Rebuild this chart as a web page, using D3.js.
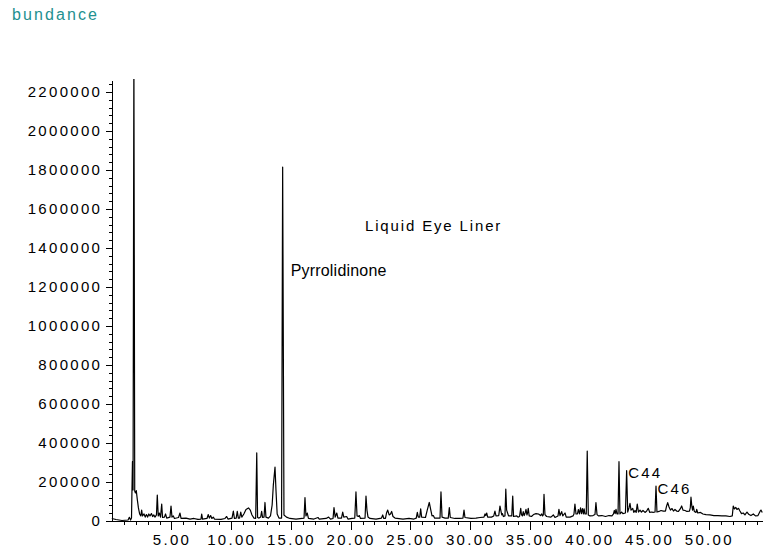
<!DOCTYPE html>
<html>
<head>
<meta charset="utf-8">
<script src="https://cdn.jsdelivr.net/npm/d3@7"></script>
<style>
  body { margin: 0; background: #fff; }
  text { font-family: "Liberation Sans", Arial, Helvetica, sans-serif; }
</style>
</head>
<body>
<div id="g1"></div>
<script>
// retention time (min) and abundance
var retentionTime = [
  0.00,0.35,0.85,1.36,1.47,1.57,1.65,1.73,1.78,1.85,
  1.92,1.98,2.05,2.14,2.23,2.33,2.43,2.50,2.57,2.70,
  2.80,2.90,3.00,3.10,3.20,3.32,3.42,3.52,3.62,3.74,
  3.81,3.89,3.98,4.08,4.18,4.25,4.41,4.50,4.60,4.87,
  4.96,5.04,5.15,5.25,5.59,5.71,5.80,6.21,6.55,6.88,
  7.22,7.47,7.53,7.60,7.97,8.08,8.17,8.28,8.38,8.50,
  8.60,9.15,9.48,9.62,9.73,10.07,10.18,10.27,10.42,10.51,
  10.60,10.70,10.80,10.89,11.06,11.24,11.45,11.60,11.74,11.91,
  12.05,12.14,12.21,12.33,12.47,12.55,12.63,12.75,12.83,12.91,
  13.12,13.29,13.43,13.53,13.67,13.75,13.85,14.00,14.22,14.31,
  14.42,14.63,14.92,15.43,15.93,16.10,16.18,16.26,16.37,16.47,
  16.93,17.27,17.38,17.94,18.16,18.32,18.53,18.61,18.71,18.84,
  18.94,19.24,19.34,19.43,19.67,19.78,20.12,20.35,20.45,20.54,
  20.66,20.73,20.83,21.21,21.29,21.37,21.46,21.62,22.13,22.59,
  22.69,22.78,22.92,23.01,23.11,23.23,23.34,23.44,23.55,23.72,
  24.39,24.89,25.31,25.50,25.59,25.67,25.79,25.87,25.95,26.27,
  26.42,26.59,26.72,26.82,26.93,27.03,27.49,27.57,27.66,27.91,
  28.18,28.27,28.35,28.74,29.08,29.41,29.50,29.58,30.08,30.50,
  30.84,31.17,31.26,31.32,31.40,31.48,31.80,31.99,32.09,32.18,
  32.41,32.51,32.60,32.66,32.72,32.80,32.93,33.00,33.07,33.15,
  33.23,33.50,33.58,33.65,33.92,34.02,34.15,34.25,34.31,34.39,
  34.46,34.54,34.62,34.69,34.77,34.82,34.88,34.96,35.15,35.32,
  35.53,35.74,35.91,36.01,36.08,36.14,36.20,36.28,36.42,36.78,
  36.98,37.12,37.37,37.45,37.54,37.68,37.77,37.96,38.06,38.38,
  38.63,38.71,38.79,38.88,39.00,39.08,39.17,39.26,39.34,39.42,
  39.50,39.56,39.63,39.74,39.82,39.91,40.05,40.30,40.47,40.55,
  40.64,40.76,41.05,41.35,41.64,41.89,42.02,42.09,42.16,42.23,
  42.31,42.40,42.48,42.56,42.69,42.81,43.02,43.12,43.21,43.32,
  43.40,43.49,43.63,43.72,43.82,43.92,44.01,44.11,44.24,44.36,
  44.49,44.66,44.80,44.93,45.06,45.22,45.33,45.50,45.58,45.66,
  45.83,46.00,46.19,46.37,46.47,46.56,46.67,46.79,46.92,47.04,
  47.17,47.31,47.46,47.61,47.73,47.84,48.01,48.17,48.38,48.45,
  48.51,48.58,48.64,48.70,48.79,48.93,48.99,49.08,49.31,49.51,
  49.77,50.10,50.43,50.76,51.10,51.43,51.77,51.97,52.05,52.15,
  52.26,52.36,52.49,52.61,52.74,52.89,53.03,53.20,53.37,53.53,
  53.73,53.91,54.12,54.29,54.37,54.48
];
var abundance = [
  13000,7700,2600,5000,19000,5000,15000,304000,159000,2400000,
  154000,144000,156000,108000,67000,36000,26000,56000,26000,36000,
  20000,33000,20000,36000,26000,38000,23000,31000,20000,31000,
  133000,26000,41000,20000,87000,18000,20000,36000,15000,20000,
  77000,20000,26000,13000,18000,41000,13000,15000,10000,13000,
  8000,10000,36000,10000,13000,33000,15000,28000,13000,20000,
  10000,8000,13000,23000,10000,15000,51000,13000,15000,49000,
  15000,15000,46000,20000,36000,59000,67000,56000,31000,15000,
  13000,349000,18000,15000,20000,49000,18000,20000,95000,20000,
  15000,26000,82000,185000,277000,159000,36000,15000,15000,1815000,
  31000,20000,13000,10000,13000,15000,120000,26000,41000,13000,
  10000,18000,10000,13000,20000,10000,13000,69000,20000,41000,
  15000,15000,46000,20000,23000,10000,13000,15000,149000,26000,
  23000,28000,13000,15000,128000,56000,20000,13000,10000,15000,
  31000,13000,13000,41000,56000,31000,36000,49000,23000,15000,
  10000,13000,10000,15000,44000,20000,20000,62000,20000,18000,
  56000,95000,56000,26000,28000,15000,15000,149000,20000,15000,
  15000,69000,18000,13000,13000,15000,56000,18000,13000,15000,
  18000,20000,36000,28000,41000,20000,20000,26000,51000,26000,
  28000,77000,49000,31000,38000,23000,26000,163000,56000,41000,
  26000,26000,128000,23000,26000,20000,23000,65000,33000,26000,
  48000,28000,41000,60000,31000,41000,65000,26000,23000,33000,
  38000,36000,28000,36000,26000,31000,137000,33000,23000,20000,
  31000,18000,26000,60000,28000,48000,26000,41000,20000,20000,
  26000,36000,87000,36000,36000,59000,36000,67000,38000,64000,
  36000,62000,36000,36000,359000,31000,26000,28000,33000,94000,
  33000,26000,28000,23000,28000,26000,36000,54000,38000,60000,
  36000,36000,304000,36000,46000,38000,41000,258000,46000,67000,
  91000,56000,65000,44000,54000,44000,87000,46000,56000,46000,
  54000,44000,51000,65000,44000,46000,44000,46000,179000,46000,
  49000,54000,51000,51000,77000,94000,72000,56000,64000,51000,
  59000,51000,49000,62000,77000,56000,54000,49000,51000,67000,
  122000,77000,56000,77000,49000,44000,60000,41000,44000,36000,
  33000,31000,28000,28000,26000,26000,23000,26000,77000,62000,
  70000,59000,65000,51000,38000,41000,31000,46000,33000,28000,
  36000,26000,28000,49000,56000,44000
];

var xMajor = [5, 10, 15, 20, 25, 30, 35, 40, 45, 50];
var xLabels = ["5.00", "10.00", "15.00", "20.00", "25.00", "30.00", "35.00", "40.00", "45.00", "50.00"];
var yMajor = [0, 200000, 400000, 600000, 800000, 1000000, 1200000, 1400000, 1600000, 1800000, 2000000, 2200000];
var yLabels = ["0", "200000", "400000", "600000", "800000", "1000000", "1200000", "1400000", "1600000", "1800000", "2000000", "2200000"];

var peakNames = ["Pyrrolidinone", "C44", "C46"];
var peakTimes = [14.31, 43.12, 45.58];
var peakHeights = [1815000, 258000, 179000];

var width = 771,
    height = 552;

var svg = d3.select("#g1")
   .append("svg")
   .attr("width", width)
   .attr("height", height);

var x = d3.scaleLinear().domain([0, 54.5]).range([111.8, 762.5]);
var y = d3.scaleLinear().domain([0, 2261500]).range([521, 80]);

// minor ticks every minute / every 40000
var xMinor = d3.range(1, 55);
var yMinor = d3.range(0, 2260000, 40000);

function styleAxis(g) {
   g.attr("font-family", null).attr("font-size", null);
   g.selectAll("line").attr("stroke", "#000").attr("stroke-width", 1).attr("shape-rendering", "crispEdges");
   g.selectAll("path.domain").attr("stroke", "#000").attr("stroke-width", 1).attr("shape-rendering", "crispEdges");
   g.selectAll("text")
      .attr("fill", "#000")
      .attr("font-size", 15)
      .style("letter-spacing", "2.3px");
}

svg.append("g")
   .attr("transform", "translate(0,521)")
   .call(d3.axisBottom(x).tickValues(xMinor).tickSize(4).tickSizeOuter(0).tickFormat(""))
   .call(styleAxis)
   .select(".domain").remove();

svg.append("g")
   .attr("transform", "translate(0,521)")
   .call(d3.axisBottom(x).tickValues(xMajor).tickSize(9).tickSizeOuter(0).tickPadding(4.3)
      .tickFormat(function(d, i) { return xLabels[i]; }))
   .call(styleAxis);

svg.append("g")
   .attr("transform", "translate(111.8,0)")
   .call(d3.axisLeft(y).tickValues(yMinor).tickSize(3).tickSizeOuter(0).tickFormat(""))
   .call(styleAxis)
   .select(".domain").remove();

svg.append("g")
   .attr("transform", "translate(111.8,0)")
   .call(d3.axisLeft(y).tickValues(yMajor).tickSize(6).tickSizeOuter(0).tickPadding(3.6)
      .tickFormat(function(d, i) { return yLabels[i]; }))
   .call(styleAxis);

svg.append("clipPath")
   .attr("id", "plot")
   .append("rect")
   .attr("x", 111)
   .attr("y", 79)
   .attr("width", 655)
   .attr("height", 445);

var line = d3.line()
   .x(function(d) { return x(d[0]); })
   .y(function(d) { return y(d[1]); });

svg.append("path")
   .datum(d3.zip(retentionTime, abundance))
   .attr("clip-path", "url(#plot)")
   .attr("fill", "none")
   .attr("stroke", "#000")
   .attr("stroke-width", 1.2)
   .attr("stroke-linejoin", "round")
   .attr("d", line);

// peak annotations
svg.append("text")
   .attr("x", x(peakTimes[0]) + 8)
   .attr("y", 276)
   .attr("font-size", 16)
   .style("letter-spacing", "0.2px")
   .text(peakNames[0]);

for (var i = 1; i < peakNames.length; i++) {
   svg.append("text")
      .attr("x", x(peakTimes[i]) + 1.5)
      .attr("y", y(peakHeights[i]) + 7.5)
      .attr("font-size", 15)
      .style("letter-spacing", "2.2px")
      .text(peakNames[i]);
}

svg.append("text")
   .attr("x", 365)
   .attr("y", 231)
   .attr("font-size", 15)
   .style("letter-spacing", "1.85px")
   .text("Liquid Eye Liner");

svg.append("text")
   .attr("x", 12)
   .attr("y", 20)
   .attr("font-size", 16)
   .attr("fill", "#23908f")
   .style("letter-spacing", "2.1px")
   .text("bundance");
</script>
</body>
</html>
